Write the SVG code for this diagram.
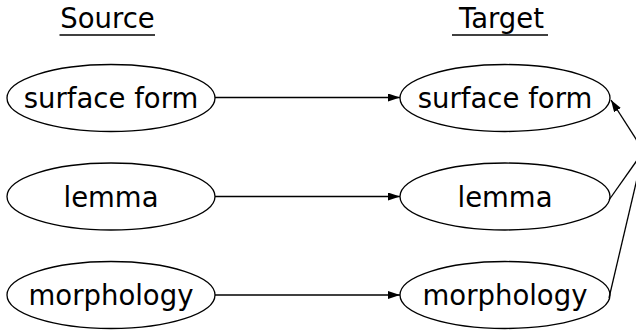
<svg xmlns="http://www.w3.org/2000/svg" width="636" height="330" viewBox="0 0 636 330">
  <style>
    .node ellipse { fill: #ffffff; stroke: #000000; stroke-width: 1.3; }
    text { font-family: "DejaVu Sans", sans-serif; font-size: 27.5px; fill: #000000; text-anchor: middle; }
    .edge { fill: none; stroke: #000000; stroke-width: 1.3; }
    .rule { stroke: #000000; stroke-width: 1.5; }
  </style>
  <defs>
    <marker id="arrow" viewBox="0 0 12 8" refX="12" refY="4" markerWidth="12" markerHeight="8" markerUnits="userSpaceOnUse" orient="auto">
      <path d="M0,0 L12,4 L0,8 Z" fill="#000000"/>
    </marker>
  </defs>

  <!-- column headings -->
  <g id="heading-source">
    <text x="107.5" y="28">Source</text>
    <line class="rule" x1="59.5" y1="35" x2="155" y2="35"/>
  </g>
  <g id="heading-target">
    <text x="501.5" y="28">Target</text>
    <line class="rule" x1="452" y1="35" x2="548" y2="35"/>
  </g>

  <!-- source side -->
  <g id="src-surface" class="node">
    <ellipse cx="111" cy="98" rx="104" ry="33.5"/>
    <text x="111" y="108">surface form</text>
  </g>
  <g id="src-lemma" class="node">
    <ellipse cx="111" cy="196.5" rx="104" ry="33.5"/>
    <text x="111" y="206.5">lemma</text>
  </g>
  <g id="src-morph" class="node">
    <ellipse cx="111" cy="295" rx="104" ry="33.5"/>
    <text x="111" y="305">morphology</text>
  </g>

  <!-- target side -->
  <g id="tgt-surface" class="node">
    <ellipse cx="505" cy="98" rx="105" ry="33.5"/>
    <text x="505" y="108">surface form</text>
  </g>
  <g id="tgt-lemma" class="node">
    <ellipse cx="505" cy="196.5" rx="105" ry="33.5"/>
    <text x="505" y="206.5">lemma</text>
  </g>
  <g id="tgt-morph" class="node">
    <ellipse cx="505" cy="295" rx="105" ry="33.5"/>
    <text x="505" y="305">morphology</text>
  </g>

  <!-- connectors -->
  <g id="edges">
    <path class="edge" d="M215,97.5 L400,97.5" marker-end="url(#arrow)"/>
    <path class="edge" d="M215,196.5 L400,196.5" marker-end="url(#arrow)"/>
    <path class="edge" d="M215,295 L400,295" marker-end="url(#arrow)"/>
    <path class="edge" d="M609,200 L645,149"/>
    <path class="edge" d="M609,298 L640,166"/>
    <path class="edge" d="M645,153 L611,100" marker-end="url(#arrow)"/>
  </g>
</svg>
